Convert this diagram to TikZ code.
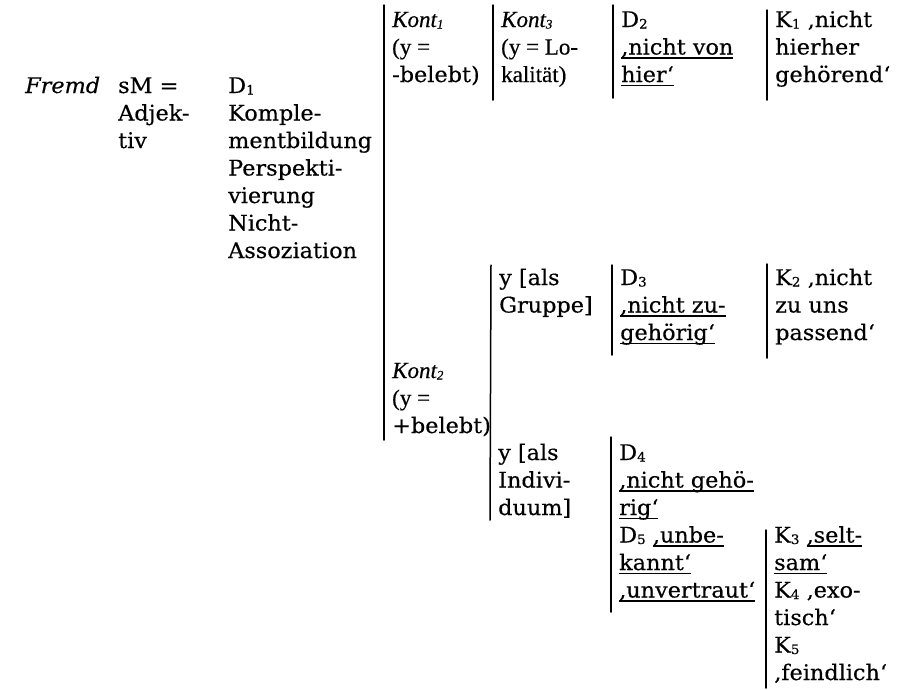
\documentclass[tikz,border=0pt]{standalone}
\usepackage{fontspec}
\setmainfont{DejaVu Serif}[FakeStretch=1.04,FakeBold=0.4]
\newfontfamily\narrowfont{Liberation Serif}[FakeBold=0.4]
\usetikzlibrary{calc}
\newcommand\nfont{\narrowfont\fontsize{23}{27.5}\selectfont}
\newcommand\idx[1]{\raisebox{-1.5pt}{\fontsize{13}{13}\selectfont #1}}
\newcommand\uln[1]{\setbox0\hbox{#1}\rlap{\rule[-4pt]{\wd0}{1.2pt}}\box0}

\begin{document}
\begin{tikzpicture}[x=1pt,y=-1pt,line cap=round,
  txt/.style={anchor=base west,inner sep=0pt,align=left,font=\fontsize{21.5}{27.5}\selectfont},
  rulebar/.style={line width=1.5pt,color=black}]
\useasboundingbox (0,0) rectangle (911,689);
% word, part of speech, basic meaning (placed at the last baseline)
\node[txt] (fremd) at (25,93) {\textit{Fremd}};
\node[txt] (sm) at (118,148) {sM =\\Adjek-\\tiv};
\node[txt] (done) at (228,258) {D\idx{1}\\Komple-\\mentbildung\\Perspekti-\\vierung\\Nicht-\\Assoziation};
% contexts
\node[txt] (konta) at (392,82) {{\nfont\itshape Kont\idx{1}}\\{\nfont (y =}\\-belebt)};
\node[txt] (kontb) at (392,433) {{\nfont\itshape Kont\idx{2}}\\{\nfont (y =}\\+belebt)};
\node[txt] (kontc) at (501,82) {{\nfont\itshape Kont\idx{3}}\\{\nfont (y = Lo-}\\{\nfont kalität)}};
\node[txt] (gruppe) at (499,312.5) {y [als\\Gruppe]};
\node[txt] (indiv) at (498,515) {y [als\\Indivi-\\duum]};
% readings
\node[txt] (dtwo) at (621,82) {D\idx{2}\\\uln{‚nicht von}\\\uln{hier‘}};
\node[txt] (dthree) at (620,340) {D\idx{3}\\\uln{‚nicht zu-}\\\uln{gehörig‘}};
\node[txt] (dfour) at (619,597.5) {D\idx{4}\\\uln{‚nicht gehö-}\\\uln{rig‘}\\D\idx{5} \uln{‚unbe-}\\\uln{kannt‘}\\\uln{‚unvertraut‘}};
% connotations
\node[txt] (kone) at (775,82) {K\idx{1} ‚nicht\\hierher\\gehörend‘};
\node[txt] (ktwo) at (775,340) {K\idx{2} ‚nicht\\zu uns\\passend‘};
\node[txt] (kthree) at (774,680) {K\idx{3} \uln{‚selt-}\\\uln{sam‘}\\K\idx{4} ‚exo-\\tisch‘\\K\idx{5}\\‚feindlich‘};
% bars
\foreach \a/\s/\b/\e in {konta/-77/kontb/7,kontc/-77/kontc/18,dtwo/-77/dtwo/16,kone/-72/kone/18,
  gruppe/-47.5/indiv/5,dthree/-75/dthree/15,ktwo/-76/ktwo/18,dfour/-160.5/dfour/14.5,kthree/-150/kthree/8}
\draw[rulebar] ($(\a.base west)+(-8,\s)$) -- ($(\b.base west)+(-8,\e)$);
\end{tikzpicture}
\end{document}
